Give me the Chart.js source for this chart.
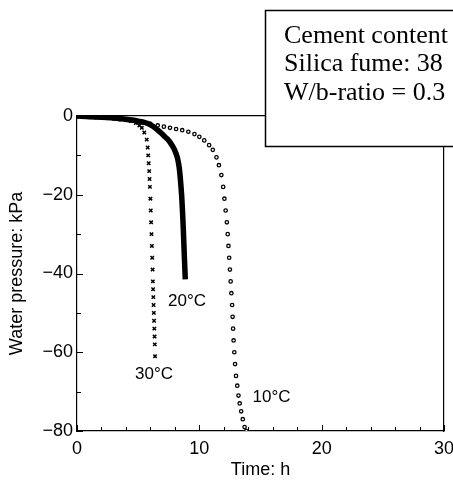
<!DOCTYPE html>
<html>
<head>
<meta charset="utf-8">
<script src="https://cdn.jsdelivr.net/npm/chart.js@4"></script>
<style>
  html, body { margin: 0; padding: 0; background: #fff; }
  #wrap { width: 453px; height: 481px; }
</style>
</head>
<body>
<div id="wrap"><canvas id="chart"></canvas></div>
<script>
// Time (h) / water pressure (kPa)
const t30 = [0, 0.5, 1, 1.5, 2, 2.5, 3, 3.5, 4, 4.4, 4.8, 5.1, 5.3, 5.5, 5.7, 5.78, 5.82, 5.86, 5.9, 5.93, 5.96, 6.0, 6.03, 6.06, 6.09, 6.12, 6.15, 6.18, 6.2, 6.22, 6.24, 6.26, 6.28, 6.3, 6.32, 6.34, 6.36, 6.38];
const p30 = [0, -0.1, -0.2, -0.3, -0.4, -0.5, -0.6, -0.8, -1.0, -1.3, -1.8, -2.4, -3.0, -4.2, -6.0, -8, -10, -12, -14, -16, -18, -21, -24, -27, -30, -33, -36, -39, -42, -44, -46, -48, -50, -52, -54, -56, -58, -61];

const t20 = [0, 1, 2, 3, 4, 4.5, 5, 5.5, 5.8, 6.2, 6.6, 6.9, 7.2, 7.5, 7.8, 8.0, 8.2, 8.35, 8.45, 8.55, 8.62, 8.68, 8.73, 8.78, 8.82, 8.85];
const p20 = [0, -0.2, -0.3, -0.5, -0.8, -1.0, -1.3, -1.6, -1.9, -2.6, -3.6, -4.4, -5.3, -6.2, -7.6, -8.8, -10.5, -13, -16, -20, -24, -28, -32, -36, -39, -41.5];

const t10 = [0, 0.5, 1, 1.5, 2, 2.5, 3, 3.5, 4, 4.5, 5, 5.5, 6, 6.6, 7.1, 7.6, 8.1, 8.6, 9.1, 9.6, 10.0, 10.4, 10.8, 11.1, 11.4, 11.6, 11.8, 11.95, 12.05, 12.15, 12.25, 12.32, 12.38, 12.44, 12.5, 12.56, 12.62, 12.68, 12.72, 12.76, 12.8, 12.86, 12.92, 13.0, 13.1, 13.2, 13.3, 13.42, 13.55, 13.7, 13.85];
const p10 = [0, -0.1, -0.2, -0.3, -0.4, -0.5, -0.6, -0.8, -1.0, -1.2, -1.4, -1.7, -2.0, -2.4, -2.7, -3.0, -3.3, -3.6, -4.0, -4.6, -5.3, -6.2, -7.4, -8.6, -10.5, -12.5, -15, -18, -21, -24, -27, -30, -33, -36, -39, -42, -45, -48, -51, -54, -57, -60, -63, -66, -68.5, -71, -73, -75, -77, -79, -80];

const xTicks = [0, 10, 20, 30];
const yTicks = [0, -20, -40, -60, -80];

const curveLabels = [
  { text: '20\u00B0C', x: 9.0, y: -47 },
  { text: '30\u00B0C', x: 6.3, y: -65.5 },
  { text: '10\u00B0C', x: 15.9, y: -71.5 }
];
const boxLines = ['Cement content', 'Silica fume: 38', 'W/b-ratio = 0.3'];

const SANS = '"Liberation Sans", Arial, sans-serif';

function toPoints(xs, ys) {
  return xs.map((x, i) => ({ x: x, y: ys[i] }));
}

// ticks drawn inward, plus curve labels and the text box
const extrasPlugin = {
  id: 'extras',
  afterDraw(chart) {
    const ctx = chart.ctx;
    const xs = chart.scales.x, ys = chart.scales.y;
    const a = chart.chartArea;
    ctx.save();
    ctx.strokeStyle = '#000';
    ctx.lineWidth = 1;
    ctx.beginPath();
    for (let v = 0; v <= 30; v += 2) {
      const px = Math.round(xs.getPixelForValue(v)) + 0.5;
      const len = (v % 10 === 0) ? 6 : 4;
      ctx.moveTo(px, a.bottom);
      ctx.lineTo(px, a.bottom - len);
    }
    for (let v = 0; v >= -80; v -= 10) {
      const py = Math.round(ys.getPixelForValue(v)) + 0.5;
      const len = (v % 20 === 0) ? 6 : 4;
      ctx.moveTo(a.left, py);
      ctx.lineTo(a.left + len, py);
    }
    ctx.stroke();

    ctx.fillStyle = '#000';
    ctx.font = '17px ' + SANS;
    ctx.textAlign = 'center';
    ctx.textBaseline = 'middle';
    curveLabels.forEach(l => {
      ctx.fillText(l.text, xs.getPixelForValue(l.x), ys.getPixelForValue(l.y));
    });

    // annotation box
    ctx.fillStyle = '#fff';
    ctx.fillRect(265, 10, 200, 136);
    ctx.strokeStyle = '#000';
    ctx.lineWidth = 1.5;
    ctx.strokeRect(265.5, 10.5, 200, 136);
    ctx.fillStyle = '#000';
    ctx.font = '26px "Liberation Serif", "Times New Roman", serif';
    ctx.textAlign = 'left';
    ctx.textBaseline = 'middle';
    boxLines.forEach((s, i) => ctx.fillText(s, 284, 36 + i * 28.5));
    ctx.restore();
  }
};

new Chart(document.getElementById('chart'), {
  type: 'scatter',
  data: {
    datasets: [
      {
        label: '30\u00B0C',
        data: toPoints(t30, p30),
        showLine: false,
        pointStyle: 'crossRot',
        pointRadius: 2.4,
        borderColor: '#000',
        borderWidth: 1.5
      },
      {
        label: '20\u00B0C',
        data: toPoints(t20, p20),
        showLine: true,
        borderColor: '#000',
        borderWidth: 5.5,
        pointRadius: 0,
        tension: 0.3
      },
      {
        label: '10\u00B0C',
        data: toPoints(t10, p10),
        showLine: false,
        pointStyle: 'circle',
        pointRadius: 1.7,
        borderColor: '#000',
        backgroundColor: '#fff',
        borderWidth: 1.3
      }
    ]
  },
  options: {
    responsive: true,
    maintainAspectRatio: false,
    animation: false,
    layout: { padding: { top: 116, right: 9, bottom: 0, left: 0 } },
    plugins: {
      legend: { display: false },
      tooltip: { enabled: false }
    },
    scales: {
      x: {
        type: 'linear',
        min: 0,
        max: 30,
        afterBuildTicks: s => { s.ticks = xTicks.map(v => ({ value: v })); },
        afterFit: s => { s.height = 50; s.paddingLeft = 0; s.paddingRight = 0; },
        grid: { display: false, tickLength: 2 },
        border: { display: true, color: '#000', width: 1.2 },
        ticks: {
          color: '#000',
          padding: 5,
          maxRotation: 0,
          font: { family: SANS, size: 18 }
        },
        title: {
          display: true,
          text: 'Time: h',
          color: '#000',
          padding: { top: 0, bottom: 0 },
          font: { family: SANS, size: 18 }
        }
      },
      y: {
        type: 'linear',
        min: -80,
        max: 0,
        afterBuildTicks: s => { s.ticks = yTicks.map(v => ({ value: v })); },
        afterFit: s => { s.width = 77; s.paddingTop = 0; s.paddingBottom = 0; },
        grid: { display: false, tickLength: 2 },
        border: { display: true, color: '#000', width: 1.2 },
        ticks: {
          color: '#000',
          padding: 2,
          callback: v => String(v).replace('-', '\u2212'),
          font: { family: SANS, size: 18 }
        },
        title: {
          display: true,
          text: 'Water pressure: kPa',
          color: '#000',
          padding: { top: 6, bottom: 0 },
          font: { family: SANS, size: 18 }
        }
      },
      x2: {
        type: 'linear', position: 'top', min: 0, max: 30,
        grid: { display: false }, ticks: { display: false },
        border: { display: true, color: '#000', width: 1.2 },
        afterFit: s => { s.height = 0; }
      },
      y2: {
        type: 'linear', position: 'right', min: -80, max: 0,
        grid: { display: false }, ticks: { display: false },
        border: { display: true, color: '#000', width: 1.2 },
        afterFit: s => { s.width = 0; }
      }
    }
  },
  plugins: [extrasPlugin]
});
</script>
</body>
</html>
